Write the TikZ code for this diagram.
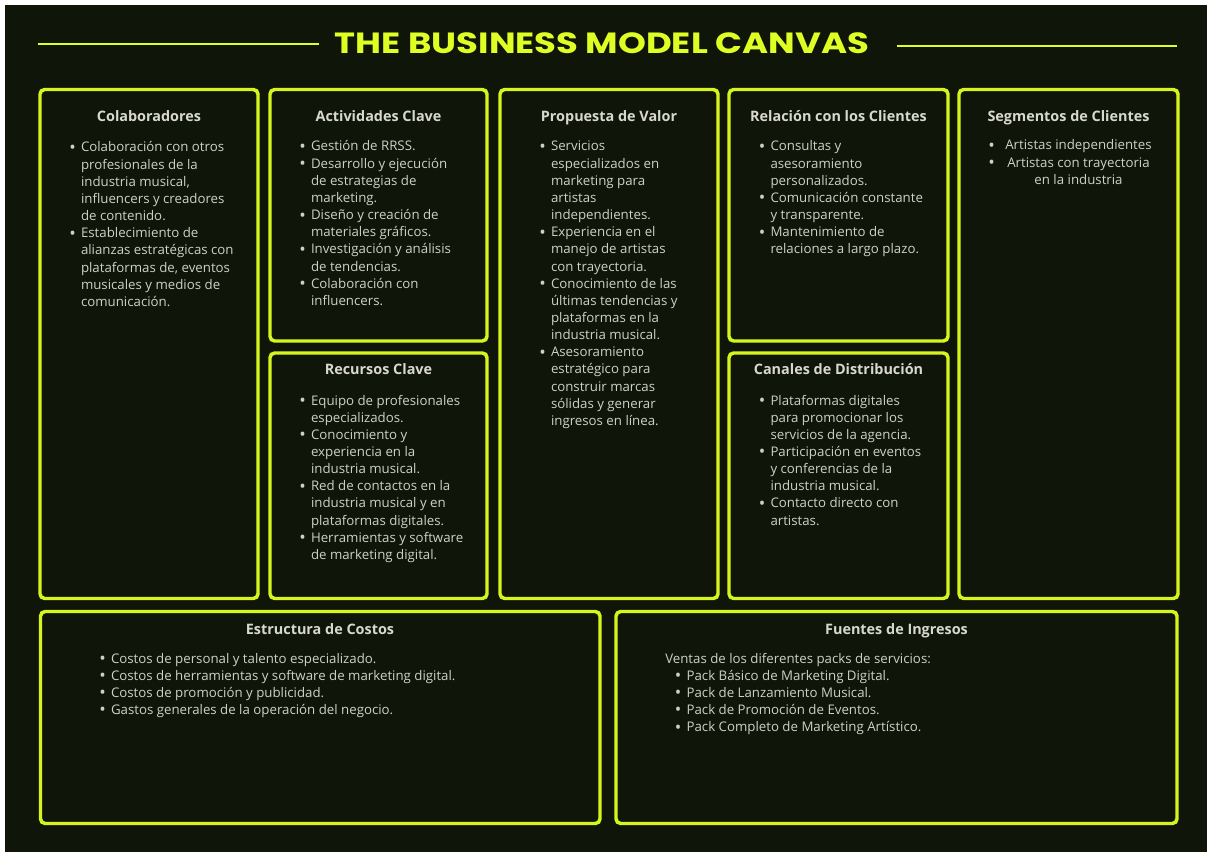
\documentclass[tikz,border=0pt]{standalone}
\usepackage{fontspec}
\setmainfont{Open Sans}
\newfontfamily\titlefont{Poppins}
\definecolor{bgc}{HTML}{0F1609}
\definecolor{edgec}{HTML}{D6F51E}
\definecolor{titlec}{HTML}{DFFF24}
\definecolor{txtc}{HTML}{D0D0C6}
\definecolor{headc}{HTML}{D8D8CF}
\newcommand{\bigbul}{\raisebox{-1.1pt}{\scalebox{1.3}{\textbullet}}}
\newcommand{\bl}{\makebox[8.8pt][l]{\bigbul}}
\newcommand{\ct}{\hspace*{8.8pt}}
\tikzset{
  panel/.style={draw=edgec, line width=2.6pt, rounded corners=3.5pt},
  head/.style={anchor=base, inner sep=0pt, text=headc, font=\fontsize{10.8}{12.9}\selectfont\bfseries},
  body/.style={anchor=base west, inner sep=0pt, text=txtc, font=\fontsize{9.95}{12.86}\selectfont},
  rule/.style={draw=titlec, line width=1.9pt}
}
\begin{document}
\begin{tikzpicture}[x=0.75pt,y=-0.75pt]
\useasboundingbox (0,0) rectangle (1207,852);
\fill[white] (0,0) rectangle (1207,852);
\fill[bgc] (5,5) rectangle (1207,852);
% title
\node[anchor=base, inner sep=0pt, text=titlec] (title) at (602,54)
  {\resizebox{400.5pt}{15.6pt}{\titlefont\bfseries THE BUSINESS MODEL CANVAS}};
\coordinate (l1) at (38,44); \coordinate (l2) at (319,44);
\coordinate (r1) at (897,46); \coordinate (r2) at (1177,46);
\draw[rule] (l1) -- (l2);
\draw[rule] (r1) -- (r2);
% panels
\draw[panel] (40,89.5) rectangle (258,598.5);
\draw[panel] (270,89.5) rectangle (487,341);
\draw[panel] (270,353) rectangle (487,598.5);
\draw[panel] (500,89.5) rectangle (718,598.5);
\draw[panel] (729,89.5) rectangle (948,341);
\draw[panel] (729,353) rectangle (948,598.5);
\draw[panel] (959,89.5) rectangle (1178,598.5);
\draw[panel] (40.5,611.5) rectangle (600,823.5);
\draw[panel] (616,611.5) rectangle (1177,823.5);
% headings
\node[head] (hcol) at (149,122) {Colaboradores};
\node[head] (hact) at (378.5,122) {Actividades Clave};
\node[head] (hrec) at (378.5,374) {Recursos Clave};
\node[head] (hpro) at (609,122) {Propuesta de Valor};
\node[head] (hrel) at (838.5,122) {Relación con los Clientes};
\node[head] (hcan) at (838.5,374) {Canales de Distribución};
\node[head] (hseg) at (1068.5,122) {Segmentos de Clientes};
\node[head] (hcos) at (320,634) {Estructura de Costos};
\node[head] (hing) at (896.5,634) {Fuentes de Ingresos};
% bodies
\node[body] (bcol) at (69,152) {\parbox[t]{170pt}{\raggedright
\bl Colaboración con otros\\
\ct profesionales de la\\
\ct industria musical,\\
\ct influencers y creadores\\
\ct de contenido.\\
\bl Establecimiento de\\
\ct alianzas estratégicas con\\
\ct plataformas de, eventos\\
\ct musicales y medios de\\
\ct comunicación.}};
\node[body] (bact) at (299,151) {\parbox[t]{170pt}{\raggedright
\bl Gestión de RRSS.\\
\bl Desarrollo y ejecución\\
\ct de estrategias de\\
\ct marketing.\\
\bl Diseño y creación de\\
\ct materiales gráficos.\\
\bl Investigación y análisis\\
\ct de tendencias.\\
\bl Colaboración con\\
\ct influencers.}};
\node[body] (brec) at (299,405) {\parbox[t]{170pt}{\raggedright
\bl Equipo de profesionales\\
\ct especializados.\\
\bl Conocimiento y\\
\ct experiencia en la\\
\ct industria musical.\\
\bl Red de contactos en la\\
\ct industria musical y en\\
\ct plataformas digitales.\\
\bl Herramientas y software\\
\ct de marketing digital.}};
\node[body] (bpro) at (539,151) {\parbox[t]{170pt}{\raggedright
\bl Servicios\\
\ct especializados en\\
\ct marketing para\\
\ct artistas\\
\ct independientes.\\
\bl Experiencia en el\\
\ct manejo de artistas\\
\ct con trayectoria.\\
\bl Conocimiento de las\\
\ct últimas tendencias y\\
\ct plataformas en la\\
\ct industria musical.\\
\bl Asesoramiento\\
\ct estratégico para\\
\ct construir marcas\\
\ct sólidas y generar\\
\ct ingresos en línea.}};
\node[body] (brel) at (758.5,151) {\parbox[t]{170pt}{\raggedright
\bl Consultas y\\
\ct asesoramiento\\
\ct personalizados.\\
\bl Comunicación constante\\
\ct y transparente.\\
\bl Mantenimiento de\\
\ct relaciones a largo plazo.}};
\node[body] (bcan) at (758.5,405) {\parbox[t]{170pt}{\raggedright
\bl Plataformas digitales\\
\ct para promocionar los\\
\ct servicios de la agencia.\\
\bl Participación en eventos\\
\ct y conferencias de la\\
\ct industria musical.\\
\bl Contacto directo con\\
\ct artistas.}};
\node[body] (bsegb) at (988,150) {\parbox[t]{20pt}{\raggedright
\bigbul\\ \bigbul}};
\node[body, anchor=base] (bseg) at (1078.5,150) {\parbox[t]{150pt}{\centering
Artistas independientes\\
Artistas con trayectoria\\
en la industria}};
\node[body] (bcos) at (99,663) {\parbox[t]{400pt}{\raggedright
\bl Costos de personal y talento especializado.\\
\bl Costos de herramientas y software de marketing digital.\\
\bl Costos de promoción y publicidad.\\
\bl Gastos generales de la operación del negocio.}};
\node[body] (bing) at (665,663) {\parbox[t]{400pt}{\raggedright
Ventas de los diferentes packs de servicios:\\
\hspace*{7.2pt}\bl Pack Básico de Marketing Digital.\\
\hspace*{7.2pt}\bl Pack de Lanzamiento Musical.\\
\hspace*{7.2pt}\bl Pack de Promoción de Eventos.\\
\hspace*{7.2pt}\bl Pack Completo de Marketing Artístico.}};
\end{tikzpicture}
\end{document}
